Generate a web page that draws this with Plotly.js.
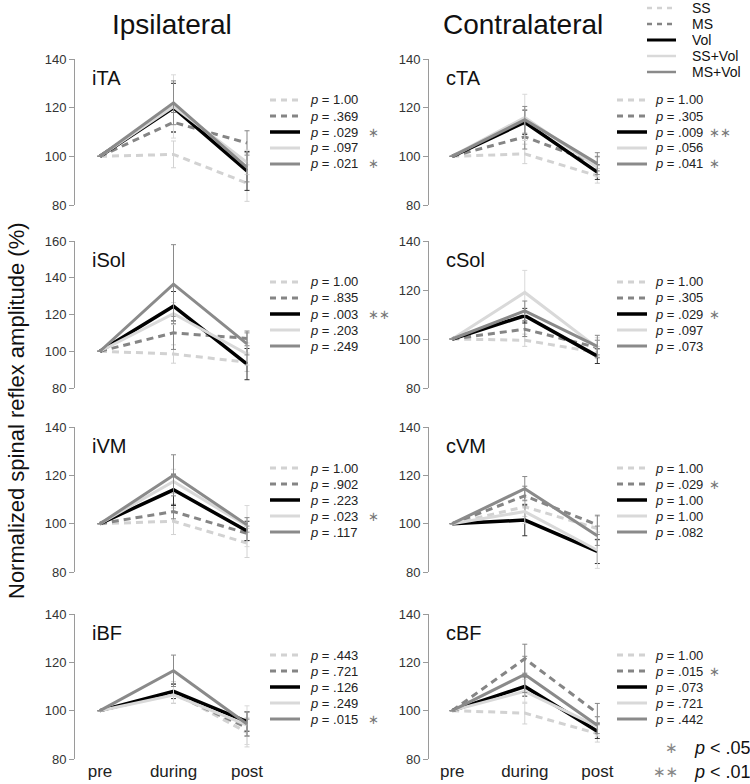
<!DOCTYPE html>
<html>
<head>
<meta charset="utf-8">
<script src="https://cdn.plot.ly/plotly-3.0.1.min.js"></script>
<style>
  html, body { margin: 0; padding: 0; background: #fff; }
  #chart { width: 750px; height: 784px; }
</style>
</head>
<body>
<div id="chart"></div>
<script>
// conditions and time points
const conditions = ['SS', 'MS', 'Vol', 'SS+Vol', 'MS+Vol']
const phases = ['pre', 'during', 'post']
const muscles = ['iTA', 'cTA', 'iSol', 'cSol', 'iVM', 'cVM', 'iBF', 'cBF']

// normalized amplitude (%) per condition: [pre, during, post]
const iTA_mean = [[100, 100.8, 89], [100, 114, 105.5], [100, 120, 94], [100, 120.5, 97.5], [100, 122, 95.5]]
const iTA_se = [[0, 5.5, 7.5], [0, 4, 5], [0, 10, 8], [0, 13, 5], [0, 9, 6]]
const cTA_mean = [[100, 101, 92], [100, 108, 97], [100, 114, 93.5], [100, 116, 95.5], [100, 115, 97]]
const cTA_se = [[0, 4, 3], [0, 5, 3], [0, 5, 3], [0, 9.5, 4], [0, 5.5, 4.5]]
const iSol_mean = [[100, 98.5, 94], [100, 110, 107], [100, 124.5, 93], [100, 120.5, 98.5], [100, 136.5, 104]]
const iSol_se = [[0, 5, 5], [0, 9, 4], [0, 8, 8.5], [0, 6, 6], [0, 21.5, 6]]
const cSol_mean = [[100, 99.5, 94.5], [100, 104, 96.5], [100, 109.5, 93], [100, 119, 96.5], [100, 111.5, 97]]
const cSol_se = [[0, 2.5, 2.5], [0, 3, 3], [0, 3, 3], [0, 9, 4], [0, 4, 4.5]]
const iVM_mean = [[100, 101, 92], [100, 105, 96], [100, 114, 97], [100, 117.5, 99], [100, 120, 99.5]]
const iVM_se = [[0, 5.5, 6], [0, 3, 3], [0, 6.5, 4], [0, 5, 8.5], [0, 8.5, 3]]
const cVM_mean = [[100, 107, 98], [100, 111.5, 99.5], [100, 101.5, 88.5], [100, 105, 89], [100, 114.5, 95]]
const cVM_se = [[0, 4, 5], [0, 4, 4], [0, 6.5, 5], [0, 5, 7.5], [0, 5, 4]]
const iBF_mean = [[100, 107.5, 91], [100, 107, 93], [100, 108, 95.5], [100, 106.5, 94], [100, 116.5, 94.5]]
const iBF_se = [[0, 4.5, 6], [0, 4, 3.5], [0, 3, 4], [0, 3.5, 8], [0, 6.5, 5]]
const cBF_mean = [[100, 99, 90.5], [100, 121.5, 99], [100, 110, 91.5], [100, 108, 93.5], [100, 115, 94]]
const cBF_se = [[0, 4.5, 3.5], [0, 6, 4], [0, 4, 3], [0, 5, 4], [0, 7.5, 3.5]]

// p values per condition
const iTA_p = ['1.00', '.369', '.029', '.097', '.021']
const cTA_p = ['1.00', '.305', '.009', '.056', '.041']
const iSol_p = ['1.00', '.835', '.003', '.203', '.249']
const cSol_p = ['1.00', '.305', '.029', '.097', '.073']
const iVM_p = ['1.00', '.902', '.223', '.023', '.117']
const cVM_p = ['1.00', '.029', '1.00', '1.00', '.082']
const iBF_p = ['.443', '.721', '.126', '.249', '.015']
const cBF_p = ['1.00', '.015', '.073', '.721', '.442']

const yRanges = [[80, 140], [80, 140], [80, 160], [80, 140], [80, 140], [80, 140], [80, 140], [80, 140]]

const means = [iTA_mean, cTA_mean, iSol_mean, cSol_mean, iVM_mean, cVM_mean, iBF_mean, cBF_mean]
const ses = [iTA_se, cTA_se, iSol_se, cSol_se, iVM_se, cVM_se, iBF_se, cBF_se]
const pvals = [iTA_p, cTA_p, iSol_p, cSol_p, iVM_p, cVM_p, iBF_p, cBF_p]

const FONT = 'Liberation Sans, Arial, Helvetica, sans-serif'
const W = 750
const H = 784

const STYLES = [
  { color: '#d2d2d2', dash: '7px,5px', width: 3 },
  { color: '#858585', dash: '7px,5px', width: 3 },
  { color: '#000000', dash: 'solid', width: 3.5 },
  { color: '#d9d9d9', dash: 'solid', width: 3 },
  { color: '#8a8a8a', dash: 'solid', width: 3 },
]

// pixel boxes of the panels
const COLS = [
  { x0: 75, x1: 272, range: [-0.34, 2.34], sampleX: 270, textX: 308, starX: 366 },
  { x0: 429, x1: 622, range: [-0.32, 2.34], sampleX: 617, textX: 653, starX: 707 },
]
const ROWS = [[59, 205], [241, 388], [427, 572], [614, 759]]

const px = x => x / W
const py = y => 1 - y / H

function stars(p) {
  const v = parseFloat(p)
  if (v < 0.01) return '∗∗'
  if (v < 0.05) return '∗'
  return ''
}

const data = []
const layout = {
  width: W,
  height: H,
  margin: { l: 0, r: 0, t: 0, b: 0 },
  paper_bgcolor: '#fff',
  plot_bgcolor: '#fff',
  showlegend: false,
  font: { family: FONT, color: '#222' },
  annotations: [],
  shapes: [],
}

muscles.forEach((m, k) => {
  const row = Math.floor(k / 2)
  const col = COLS[k % 2]
  const top = ROWS[row][0]
  const bottom = ROWS[row][1]
  const xa = k === 0 ? 'x' : 'x' + (k + 1)
  const ya = k === 0 ? 'y' : 'y' + (k + 1)

  conditions.forEach((c, i) => {
    const s = STYLES[i]
    data.push({
      x: [0, 1, 2],
      y: means[k][i],
      xaxis: xa,
      yaxis: ya,
      type: 'scatter',
      mode: 'lines',
      name: c,
      line: { color: s.color, width: s.width, dash: s.dash },
      error_y: { type: 'data', array: ses[k][i], color: s.color === '#000000' ? '#333' : s.color, thickness: 1, width: 2.5 },
      hoverinfo: 'skip',
    })
  })

  layout['xaxis' + (k === 0 ? '' : k + 1)] = {
    domain: [px(col.x0), px(col.x1)],
    anchor: ya,
    range: col.range,
    showline: false,
    showgrid: false,
    zeroline: false,
    ticks: '',
    tickvals: [0, 1, 2],
    ticktext: phases,
    showticklabels: row === 3,
    tickfont: { size: 17, color: '#222', family: FONT },
    fixedrange: true,
  }
  layout['yaxis' + (k === 0 ? '' : k + 1)] = {
    domain: [py(bottom), py(top)],
    anchor: xa,
    range: yRanges[k],
    dtick: 20,
    showline: true,
    linecolor: '#9a9a9a',
    linewidth: 1,
    ticks: 'outside',
    ticklen: 5,
    tickcolor: '#9a9a9a',
    showgrid: false,
    zeroline: false,
    tickfont: { size: 13, color: '#333', family: FONT },
    fixedrange: true,
  }

  // panel label
  layout.annotations.push({
    xref: 'paper', yref: 'paper', x: px(col.x0 + 15), y: py(top + 19),
    xanchor: 'left', yanchor: 'middle', showarrow: false,
    text: m, font: { size: 20, color: '#111', family: FONT },
  })

  // p value key
  conditions.forEach((c, i) => {
    const s = STYLES[i]
    const yy = top + 41 + 16 * i
    layout.shapes.push({
      type: 'line', xref: 'paper', yref: 'paper',
      x0: px(col.sampleX), x1: px(col.sampleX + 30), y0: py(yy), y1: py(yy),
      line: { color: s.color, width: s.width, dash: s.dash === 'solid' ? 'solid' : '6px,5px' },
    })
    layout.annotations.push({
      xref: 'paper', yref: 'paper', x: px(col.textX), y: py(yy),
      xanchor: 'left', yanchor: 'middle', showarrow: false,
      text: '<i>p</i> = ' + pvals[k][i], font: { size: 13, color: '#222', family: FONT },
    })
    const st = stars(pvals[k][i])
    if (st) {
      layout.annotations.push({
        xref: 'paper', yref: 'paper', x: px(col.starX), y: py(yy),
        xanchor: 'left', yanchor: 'middle', showarrow: false,
        text: st, font: { size: 13, color: '#777', family: 'DejaVu Sans, sans-serif' },
      })
    }
  })
})

// column titles
layout.annotations.push(
  { xref: 'paper', yref: 'paper', x: px(172), y: py(25), xanchor: 'center', yanchor: 'middle', showarrow: false,
    text: 'Ipsilateral', font: { size: 28, color: '#111', family: FONT } },
  { xref: 'paper', yref: 'paper', x: px(523), y: py(25), xanchor: 'center', yanchor: 'middle', showarrow: false,
    text: 'Contralateral', font: { size: 28, color: '#111', family: FONT } },
  { xref: 'paper', yref: 'paper', x: px(16), y: py(411), xanchor: 'center', yanchor: 'middle', showarrow: false,
    textangle: -90, text: 'Normalized spinal reflex amplitude (%)', font: { size: 22, color: '#111', family: FONT } }
)

// condition legend, top right
conditions.forEach((c, i) => {
  const s = STYLES[i]
  const yy = 8 + 16 * i
  layout.shapes.push({
    type: 'line', xref: 'paper', yref: 'paper',
    x0: px(647), x1: px(676), y0: py(yy), y1: py(yy),
    line: { color: s.color, width: s.width - 0.5, dash: s.dash === 'solid' ? 'solid' : '5px,5px' },
  })
  layout.annotations.push({
    xref: 'paper', yref: 'paper', x: px(691), y: py(yy),
    xanchor: 'left', yanchor: 'middle', showarrow: false, height: 14, borderpad: 0,
    text: c, font: { size: 14, color: '#111', family: FONT },
  })
})

// significance key, bottom right
const sigKey = [['∗', '<i>p</i> < .05'], ['∗∗', '<i>p</i> < .01']]
sigKey.forEach((r, i) => {
  const yy = 748 + 24 * i
  layout.annotations.push(
    { xref: 'paper', yref: 'paper', x: px(680), y: py(yy), xanchor: 'right', yanchor: 'middle', showarrow: false,
      text: r[0], font: { size: 15, color: '#888', family: 'DejaVu Sans, sans-serif' } },
    { xref: 'paper', yref: 'paper', x: px(692), y: py(yy), xanchor: 'left', yanchor: 'middle', showarrow: false,
      text: r[1], font: { size: 18, color: '#111', family: FONT } }
  )
})

Plotly.newPlot('chart', data, layout, { staticPlot: true, displayModeBar: false })
</script>
</body>
</html>
